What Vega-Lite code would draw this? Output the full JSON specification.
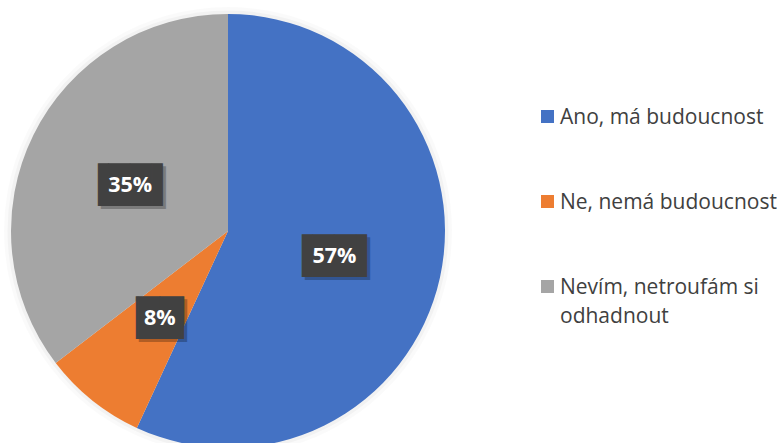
{
  "$schema": "https://vega.github.io/schema/vega-lite/v6.json",
  "width": 456,
  "height": 424,
  "autosize": {"type": "none"},
  "padding": {"left": 0, "top": 19, "right": 321, "bottom": 0},
  "background": "white",
  "config": {"view": {"stroke": null}, "font": "Open Sans"},
  "data": {
    "values": [
      {"answer": "Ano, má budoucnost", "share": 0.569},
      {"answer": "Ne, nemá budoucnost", "share": 0.077},
      {"answer": "Nevím, netroufám si odhadnout", "share": 0.354}
    ]
  },
  "encoding": {
    "theta": {"field": "share", "type": "quantitative", "stack": true},
    "order": {"field": "answer", "type": "nominal", "sort": "ascending"}
  },
  "layer": [
    {
      "mark": {"type": "arc", "radius": 224, "color": "#000000", "opacity": 0.018}
    },
    {
      "mark": {"type": "arc", "radius": 220.5, "color": "#000000", "opacity": 0.03}
    },
    {
      "mark": {"type": "arc", "radius": 217},
      "encoding": {
        "color": {
          "field": "answer",
          "type": "nominal",
          "scale": {
            "domain": ["Ano, má budoucnost", "Ne, nemá budoucnost", "Nevím, netroufám si odhadnout"],
            "range": ["#4472C4", "#ED7D31", "#A5A5A5"]
          },
          "legend": {
            "orient": "none",
            "legendX": 537,
            "legendY": 87,
            "title": null,
            "symbolType": "square",
            "symbolSize": 170,
            "symbolStrokeWidth": 0,
            "symbolOpacity": 1,
            "labelFont": "Open Sans",
            "labelFontSize": 21,
            "labelColor": "#404040",
            "labelLimit": 400,
            "labelOffset": 2,
            "rowPadding": 63,
            "labelBaseline": "top",
            "labelExpr": "datum.label == 'Nevím, netroufám si odhadnout' ? ['Nevím, netroufám si', 'odhadnout'] : datum.label",
            "encoding": {"labels": {"lineHeight": {"value": 29}, "dy": {"value": -10}}}
          }
        }
      }
    },
    {
      "mark": {"type": "text", "radius": 109, "font": "DejaVu Sans Mono", "fontSize": 36, "color": "#000000", "opacity": 0.25, "dx": 3, "dy": 6},
      "encoding": {
        "text": {"condition": {"test": "datum.share < 0.1", "value": "▕██▏"}, "value": "▐██▌"}
      }
    },
    {
      "mark": {"type": "text", "radius": 109, "font": "DejaVu Sans Mono", "fontSize": 36, "color": "#414141", "dy": 3},
      "encoding": {
        "text": {"condition": {"test": "datum.share < 0.1", "value": "▕██▏"}, "value": "▐██▌"}
      }
    },
    {
      "mark": {"type": "text", "radius": 109, "font": "Open Sans", "fontSize": 21.5, "fontWeight": "bold", "color": "#FFFFFF", "dy": 3},
      "encoding": {
        "text": {"field": "share", "type": "quantitative", "format": ".0%"}
      }
    }
  ]
}
